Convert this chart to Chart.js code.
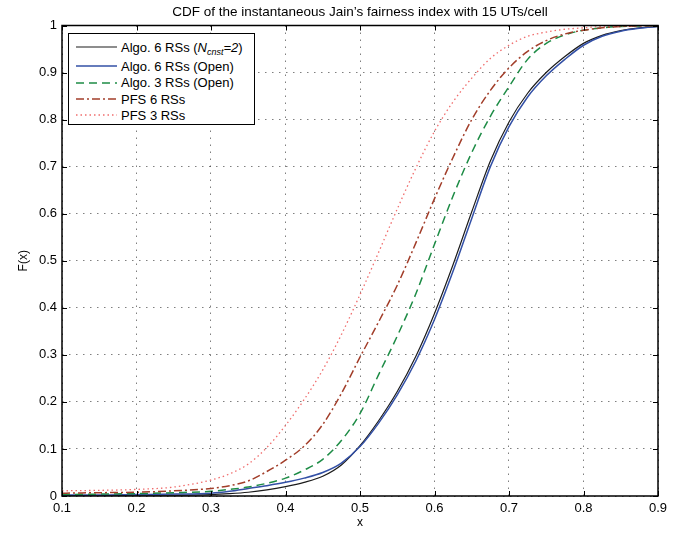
<!DOCTYPE html>
<html>
<head>
<meta charset="utf-8">
<script src="https://cdn.jsdelivr.net/npm/chart.js@4.4.1/dist/chart.umd.min.js"></script>
<style>
    body { margin: 0; background: #fff; }
    #wrap { position: relative; width: 685px; height: 534px; }
    #legend {
        position: absolute; left: 68px; top: 33px; width: 187px; height: 92px;
        box-sizing: border-box; border: 1px solid #000; background: #fff;
        font-family: 'Liberation Sans', Arial, sans-serif; font-size: 13px; color: #000;
    }
    .row { position: absolute; left: 7px; height: 16px; display: flex; align-items: center; white-space: nowrap; }
    .row svg { margin-right: 4px; }
    .row sub { font-size: 9px; vertical-align: -3px; line-height: 0; }
</style>
</head>
<body>
<div id="wrap">
    <canvas id="myChart" width="685" height="534"></canvas>
    <div id="legend"></div>
</div>
<script>
const xValues = [0.1, 0.15, 0.2, 0.25, 0.3, 0.325, 0.35, 0.375, 0.4, 0.425, 0.45, 0.475, 0.5, 0.525, 0.55,
    0.575, 0.6, 0.625, 0.65, 0.675, 0.7, 0.725, 0.75, 0.775, 0.8, 0.825, 0.85, 0.875, 0.9]

const algo6Cnst = [0.001, 0.001, 0.002, 0.002, 0.003, 0.005, 0.008, 0.013, 0.02, 0.029, 0.042, 0.066, 0.107, 0.16, 0.222,
    0.297, 0.388, 0.492, 0.604, 0.712, 0.795, 0.856, 0.9, 0.934, 0.962, 0.979, 0.989, 0.995, 0.998]
const algo6Open = [0.002, 0.002, 0.003, 0.004, 0.006, 0.01, 0.016, 0.022, 0.029, 0.038, 0.05, 0.07, 0.105, 0.155, 0.215,
    0.287, 0.375, 0.478, 0.59, 0.7, 0.785, 0.848, 0.893, 0.928, 0.958, 0.977, 0.988, 0.994, 0.998]
const algo3Open = [0.003, 0.004, 0.005, 0.007, 0.01, 0.014, 0.019, 0.027, 0.038, 0.055, 0.078, 0.118, 0.175, 0.258, 0.34,
    0.43, 0.535, 0.638, 0.73, 0.807, 0.87, 0.928, 0.962, 0.98, 0.99, 0.995, 0.998, 0.999, 1]
const pfs6 = [0.006, 0.007, 0.008, 0.011, 0.016, 0.022, 0.032, 0.052, 0.076, 0.106, 0.152, 0.218, 0.295, 0.37, 0.448,
    0.538, 0.632, 0.72, 0.8, 0.862, 0.91, 0.945, 0.968, 0.982, 0.99, 0.995, 0.998, 0.999, 1]
const pfs3 = [0.011, 0.012, 0.014, 0.019, 0.034, 0.047, 0.068, 0.103, 0.15, 0.205, 0.268, 0.343, 0.428, 0.518, 0.61,
    0.697, 0.775, 0.838, 0.888, 0.93, 0.958, 0.977, 0.986, 0.992, 0.995, 0.998, 0.999, 1, 1]

const xTicks = [0.1, 0.2, 0.3, 0.4, 0.5, 0.6, 0.7, 0.8, 0.9]
const yTicks = [0, 0.1, 0.2, 0.3, 0.4, 0.5, 0.6, 0.7, 0.8, 0.9, 1]

const seriesNames = ['Algo. 6 RSs (<i>N<sub>cnst</sub>=2</i>)', 'Algo. 6 RSs (Open)', 'Algo. 3 RSs (Open)', 'PFS 6 RSs', 'PFS 3 RSs']
const seriesData = [algo6Cnst, algo6Open, algo3Open, pfs6, pfs3]
const seriesColors = ['#1c1c1c', '#3350a6', '#1e8c46', '#a23e2a', '#f06d6d']
const seriesDash = [[], [], [8, 5], [8, 3, 2, 3], [1.5, 3]]
const seriesWidth = [1.2, 1.5, 1.5, 1.5, 1.3]
const legendRows = [13, 32, 48.5, 65, 81]

const fontFamily = "'Liberation Sans', Arial, sans-serif"
const plotTitle = 'CDF of the instantaneous Jain\u2019s fairness index with 15 UTs/cell'

const boxPlugin = {
    id: 'box',
    afterDraw: (chart) => {
        const ctx = chart.ctx
        const a = chart.chartArea
        const xs = chart.scales.x
        const ys = chart.scales.y
        ctx.save()
        ctx.strokeStyle = '#000'
        ctx.lineWidth = 1
        ctx.beginPath()
        xTicks.forEach((t) => {
            const px = Math.round(xs.getPixelForValue(t)) + 0.5
            ctx.moveTo(px, a.bottom); ctx.lineTo(px, a.bottom - 5)
            ctx.moveTo(px, a.top); ctx.lineTo(px, a.top + 5)
        })
        yTicks.forEach((t) => {
            const py = Math.round(ys.getPixelForValue(t)) + 0.5
            ctx.moveTo(a.left, py); ctx.lineTo(a.left + 5, py)
            ctx.moveTo(a.right, py); ctx.lineTo(a.right - 5, py)
        })
        ctx.stroke()
        ctx.lineWidth = 1.5
        ctx.strokeRect(a.left, a.top, a.right - a.left, a.bottom - a.top)
        ctx.fillStyle = '#000'
        ctx.font = '13.5px ' + fontFamily
        ctx.textAlign = 'center'
        ctx.textBaseline = 'middle'
        ctx.fillText(plotTitle, (a.left + a.right) / 2, 12)
        ctx.restore()
    }
}

let ctx = document.getElementById('myChart').getContext('2d')
let myChart = new Chart(ctx, {
    type: 'line',
    data: {
        datasets: seriesData.map((vals, i) => ({
            label: seriesNames[i],
            data: vals.map((v, j) => ({ x: xValues[j], y: v })),
            borderColor: seriesColors[i],
            borderDash: seriesDash[i],
            borderWidth: seriesWidth[i],
            pointRadius: 0,
            fill: false,
            cubicInterpolationMode: 'monotone',
            order: 5 - i
        }))
    },
    options: {
        responsive: false,
        animation: false,
        devicePixelRatio: 1,
        layout: { padding: { top: 25.5, right: 27, left: 0, bottom: 0 } },
        plugins: { legend: false, tooltip: { enabled: false }, title: { display: false } },
        scales: {
            x: {
                type: 'linear',
                min: 0.1,
                max: 0.9,
                afterFit: (s) => { s.height = 38 },
                afterBuildTicks: (s) => { s.ticks = xTicks.map((v) => ({ value: v })) },
                ticks: {
                    padding: 5,
                    color: '#000',
                    font: { family: fontFamily, size: 13 },
                    callback: (v) => String(+(+v).toFixed(1))
                },
                grid: { color: 'rgba(0,0,0,0.5)', lineWidth: 1, drawTicks: false },
                border: { display: false, dash: [1.5, 5.5] },
                title: { display: true, text: 'x', color: '#000', font: { family: fontFamily, size: 12 }, padding: { top: 0, bottom: 4 } }
            },
            y: {
                min: 0,
                max: 1,
                afterFit: (s) => { s.width = 62 },
                afterBuildTicks: (s) => { s.ticks = yTicks.map((v) => ({ value: v })) },
                ticks: {
                    padding: 5,
                    color: '#000',
                    font: { family: fontFamily, size: 13 },
                    callback: (v) => String(+(+v).toFixed(1))
                },
                grid: { color: 'rgba(0,0,0,0.5)', lineWidth: 1, drawTicks: false },
                border: { display: false, dash: [1.5, 5.5] },
                title: { display: true, text: 'F(x)', color: '#000', font: { family: fontFamily, size: 12 }, padding: { top: 16, bottom: 0 } }
            }
        }
    },
    plugins: [boxPlugin]
})

// legend with line samples, built from the same series styles
const legend = document.getElementById('legend')
seriesNames.forEach((name, i) => {
    const row = document.createElement('div')
    row.className = 'row'
    row.style.top = (legendRows[i] - 8) + 'px'
    const dash = seriesDash[i].length ? seriesDash[i].join(' ') : 'none'
    row.innerHTML = '<svg width="41" height="6"><line x1="0" y1="3" x2="41" y2="3" stroke="' + seriesColors[i] +
        '" stroke-width="' + seriesWidth[i] + '" stroke-dasharray="' + dash + '"/></svg><span>' + name + '</span>'
    legend.appendChild(row)
})
</script>
</body>
</html>
